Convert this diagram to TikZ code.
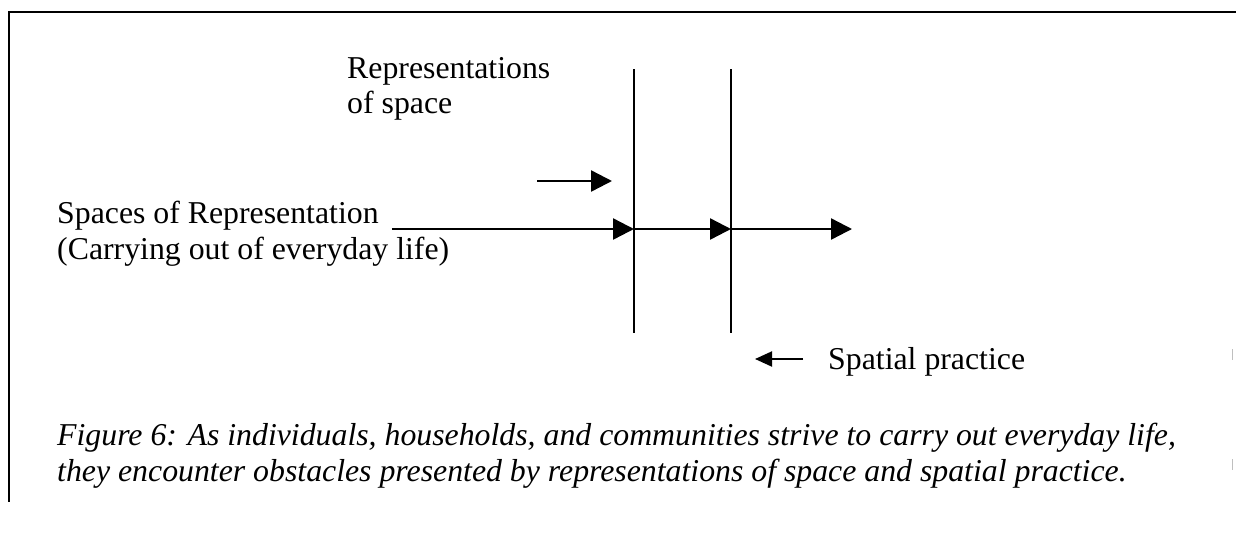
\documentclass[tikz,border=0pt]{standalone}
\usepackage{fontspec}
\setmainfont{Liberation Serif}
\usetikzlibrary{arrows.meta}
\tikzset{
  lbl/.style={anchor=base west, inner sep=0pt, font=\fontsize{31.8}{36.6}\selectfont},
  captext/.style={anchor=base west, inner sep=0pt, font=\fontsize{31.8}{36.6}\selectfont\itshape},
  frameline/.style={line width=2pt},
  barrier/.style={line width=2pt},
  flow/.style={line width=2.4pt, -{Triangle[length=21pt,width=21pt]}},
  backflow/.style={line width=2pt, -{Triangle[length=17pt,width=15pt]}},
  scanmark/.style={line width=1pt, black!25}
}
\begin{document}
\begin{tikzpicture}[x=1pt,y=-1pt]
\useasboundingbox (0,0) rectangle (1236,541);
% frame
\coordinate (fr1) at (1236,12);
\coordinate (fr2) at (9,12);
\coordinate (fr3) at (9,502);
\draw[frameline] (fr1) -- (fr2) -- (fr3);
% texts
\node[lbl] (rep1) at (347,78) {Representations};
\node[lbl] (rep2) at (347,113) {of space};
\node[lbl] (sor1) at (57,223) {Spaces of Representation};
\node[lbl] (sor2) at (57,259) {(Carrying out of everyday life)};
\node[lbl] (sp) at (828,369) {Spatial practice};
\node[captext] (c1) at (57,445) {Figure 6: As individuals, households, and communities strive to carry out everyday life,};
\node[captext] (c2) at (57,481) {they encounter obstacles presented by representations of space and spatial practice.};
% barriers
\coordinate (v1t) at (634,69);
\coordinate (v1b) at (634,333);
\coordinate (v2t) at (731,69);
\coordinate (v2b) at (731,333);
\draw[barrier] (v1t) -- (v1b);
\draw[barrier] (v2t) -- (v2b);
% flow arrows
\coordinate (m0) at ([xshift=13pt]sor1.base east);
\coordinate (m1) at (634,229);
\coordinate (m2) at (731,229);
\coordinate (m3) at (852,229);
\draw[flow] (m0 |- m1) -- (m1);
\draw[flow] (m1) -- (m2);
\draw[flow] (m2) -- (m3);
\coordinate (s0) at (537,181);
\coordinate (s1) at (612,181);
\draw[flow] (s0) -- (s1);
\coordinate (p0) at (803,359);
\coordinate (p1) at (755,359);
\draw[backflow] (p0) -- (p1);
% faint scan marks
\coordinate (t1a) at (1232,349);
\coordinate (t1b) at (1232,360);
\coordinate (t2a) at (1232,459);
\coordinate (t2b) at (1232,470);
\draw[scanmark] (t1a) -- (t1b);
\draw[scanmark] (t2a) -- (t2b);
\end{tikzpicture}
\end{document}
